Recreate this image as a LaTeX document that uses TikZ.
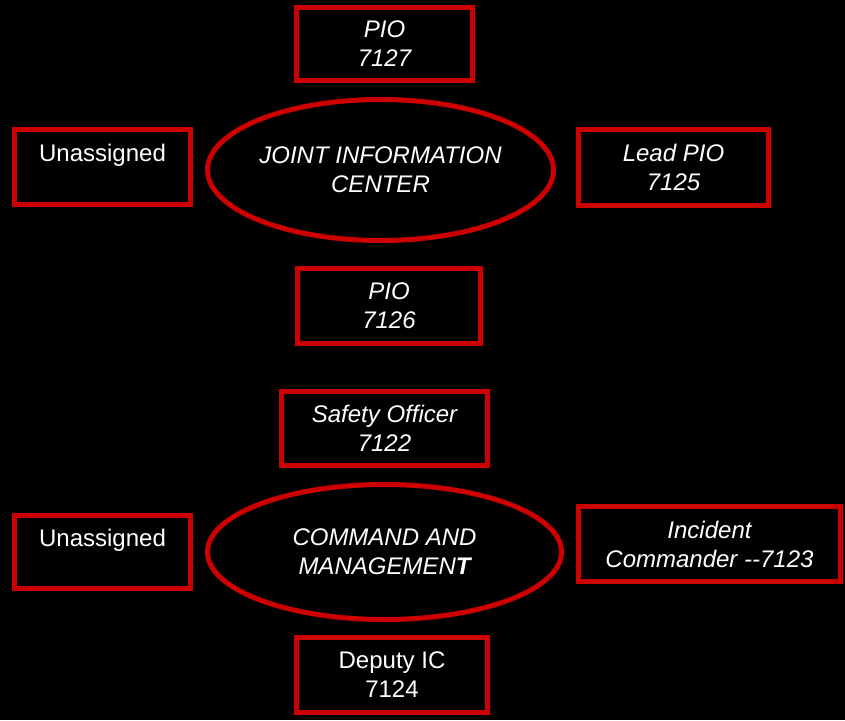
\documentclass[tikz,border=0pt]{standalone}
\usepackage{fontspec}
\setmainfont{Liberation Sans}
\usetikzlibrary{shapes.geometric}
\definecolor{boxred}{HTML}{CC0000}
\tikzset{
  base/.style={draw=boxred, line width=5pt, text=white, align=center, inner sep=0pt,
    font=\fontsize{24}{29}\selectfont},
  rolebox/.style={base, rectangle},
  oval/.style={base, ellipse},
}
\begin{document}
\begin{tikzpicture}[x=1pt,y=-1pt]
\fill[black] (0,0) rectangle (845,720);
\useasboundingbox (0,0) rectangle (845,720);
% top group
\node[rolebox, minimum width=176pt, minimum height=73pt] (pio1) at (384.5,44) {\itshape PIO\\\itshape 7127};
\node[rolebox, minimum width=176pt, minimum height=75pt] (un1) at (102.5,167) {Unassigned\\~};
\node[oval, minimum width=346pt, minimum height=141pt] (jic) at (380.5,170) {\itshape JOINT INFORMATION\\\itshape CENTER};
\node[rolebox, minimum width=190pt, minimum height=76pt] (lead) at (673.5,167.5) {\itshape Lead PIO\\\itshape 7125};
\node[rolebox, minimum width=183pt, minimum height=75pt] (pio2) at (389,306) {\itshape PIO\\\itshape 7126};
% bottom group
\node[rolebox, minimum width=206pt, minimum height=74pt] (safety) at (384.5,428.5) {\itshape Safety Officer\\\itshape 7122};
\node[rolebox, minimum width=176pt, minimum height=73pt] (un2) at (102.5,552) {Unassigned\\~};
\node[oval, minimum width=354pt, minimum height=135pt] (cm) at (384.5,552) {\itshape COMMAND AND\\\itshape MANAGEMEN\textbf{T}};
\node[rolebox, minimum width=262pt, minimum height=75pt] (ic) at (709.5,544) {\itshape Incident\\\itshape Commander -{}-7123};
\node[rolebox, minimum width=191pt, minimum height=75pt] (dep) at (392,675) {Deputy IC\\7124};
\end{tikzpicture}
\end{document}
